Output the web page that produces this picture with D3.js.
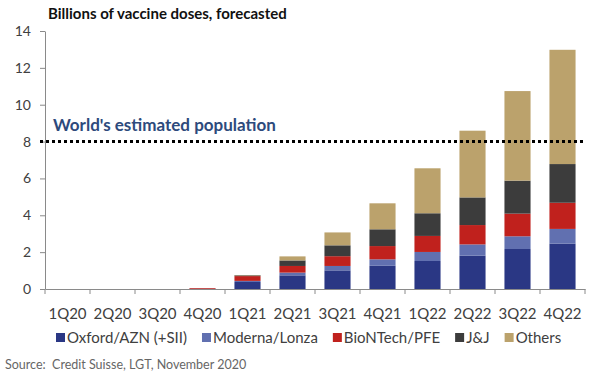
<!DOCTYPE html>
<html lang="en">
<head>
    <meta charset="UTF-8">
    <title>Billions of vaccine doses, forecasted</title>
    <script src="https://d3js.org/d3.v7.min.js"></script>
    <style>
        body { margin: 0; background: #fff; }
        svg { display: block; font-family: Lato, "Open Sans", sans-serif; }
        .axis path, .axis line { stroke: #8a8a8a; }
        .axis text { fill: #404040; font-size: 14px; font-family: Lato, sans-serif; }
        .x-axis text { font-size: 15px; }
    </style>
</head>
<body>
    <svg width="596" height="377"></svg>
    <script>
        // data (billions of doses)
        const quarters = ["1Q20", "2Q20", "3Q20", "4Q20", "1Q21", "2Q21", "3Q21", "4Q21", "1Q22", "2Q22", "3Q22", "4Q22"];
        const oxford   = [0, 0, 0, 0.01, 0.38, 0.74, 1.01, 1.26, 1.52, 1.81, 2.17, 2.46];
        const moderna  = [0, 0, 0, 0,    0.06, 0.15, 0.24, 0.35, 0.49, 0.61, 0.69, 0.80];
        const biontech = [0, 0, 0, 0.04, 0.26, 0.36, 0.53, 0.72, 0.87, 1.05, 1.23, 1.42];
        const jnj      = [0, 0, 0, 0,    0.04, 0.30, 0.59, 0.91, 1.23, 1.50, 1.79, 2.10];
        const others   = [0, 0, 0, 0,    0.02, 0.22, 0.70, 1.41, 2.44, 3.62, 4.86, 6.20];
        const seriesNames = ["Oxford/AZN (+SII)", "Moderna/Lonza", "BioNTech/PFE", "J&J", "Others"];
        const colors = ["#2a3784", "#6170b0", "#c0211d", "#3c3c3c", "#bba26c"];
        const yTicks = [0, 2, 4, 6, 8, 10, 12, 14];
        const population = 8;

        const svg = d3.select("svg");

        const x = d3.scaleBand().domain(quarters).range([45, 585])
            .paddingInner(0.42).paddingOuter(0.21);
        const y = d3.scaleLinear().domain([0, 14]).range([289, 31]);

        // build rows for stacking
        const keys = ["oxford", "moderna", "biontech", "jnj", "others"];
        const cols = [oxford, moderna, biontech, jnj, others];
        const rows = quarters.map((q, i) => {
            const r = {q: q};
            keys.forEach((k, j) => r[k] = cols[j][i]);
            return r;
        });
        const stacked = d3.stack().keys(keys)(rows);

        svg.append("g").selectAll("g")
            .data(stacked)
            .join("g")
            .attr("fill", (d, i) => colors[i])
            .selectAll("rect")
            .data(d => d)
            .join("rect")
            .attr("x", d => x(d.data.q))
            .attr("width", x.bandwidth())
            .attr("y", d => y(d[1]))
            .attr("height", d => y(d[0]) - y(d[1]));

        // y axis
        svg.append("g")
            .attr("class", "axis")
            .attr("transform", "translate(45,0)")
            .call(d3.axisLeft(y).tickValues(yTicks).tickSize(5).tickSizeOuter(0).tickPadding(9));

        // x axis: labels at centres, ticks between categories
        const xAxis = svg.append("g")
            .attr("class", "axis x-axis")
            .attr("transform", "translate(0,289)")
            .call(d3.axisBottom(x).tickSize(0).tickSizeOuter(0).tickPadding(19));
        const half = x.step() * x.paddingInner() / 2;
        const edges = quarters.map(q => x(q) - half).concat([x(quarters[quarters.length - 1]) + x.bandwidth() + half]);
        xAxis.selectAll(".edge")
            .data(edges)
            .join("line")
            .attr("class", "edge")
            .attr("x1", d => d).attr("x2", d => d)
            .attr("y1", 0).attr("y2", 5)
            .attr("stroke", "#8a8a8a");

        // world population line
        svg.append("line")
            .attr("x1", 40).attr("x2", 584)
            .attr("y1", y(population)).attr("y2", y(population))
            .attr("stroke", "#000")
            .attr("stroke-width", 3)
            .attr("stroke-dasharray", "3,3");
        svg.append("text")
            .attr("x", 53).attr("y", y(population) - 11)
            .attr("fill", "#2d4a7c")
            .attr("font-size", 17)
            .attr("font-weight", "bold")
            .text("World's estimated population");

        // title
        svg.append("text")
            .attr("x", 48).attr("y", 19)
            .attr("fill", "#111")
            .attr("font-size", 15)
            .attr("font-weight", "bold")
            .text("Billions of vaccine doses, forecasted");

        // legend
        let lx = 56;
        seriesNames.forEach((name, i) => {
            svg.append("rect")
                .attr("x", lx).attr("y", 333)
                .attr("width", 9).attr("height", 9)
                .attr("fill", colors[i]);
            const t = svg.append("text")
                .attr("x", lx + 11).attr("y", 343)
                .attr("fill", "#404040")
                .attr("font-size", 15)
                .text(name);
            lx += 11 + t.node().getComputedTextLength() + 15;
        });

        // source
        svg.append("text")
            .attr("x", 5).attr("y", 369)
            .attr("fill", "#666")
            .attr("font-size", 12.5)
            .attr("xml:space", "preserve")
            .text("Source:  Credit Suisse, LGT, November 2020");
    </script>
</body>
</html>
